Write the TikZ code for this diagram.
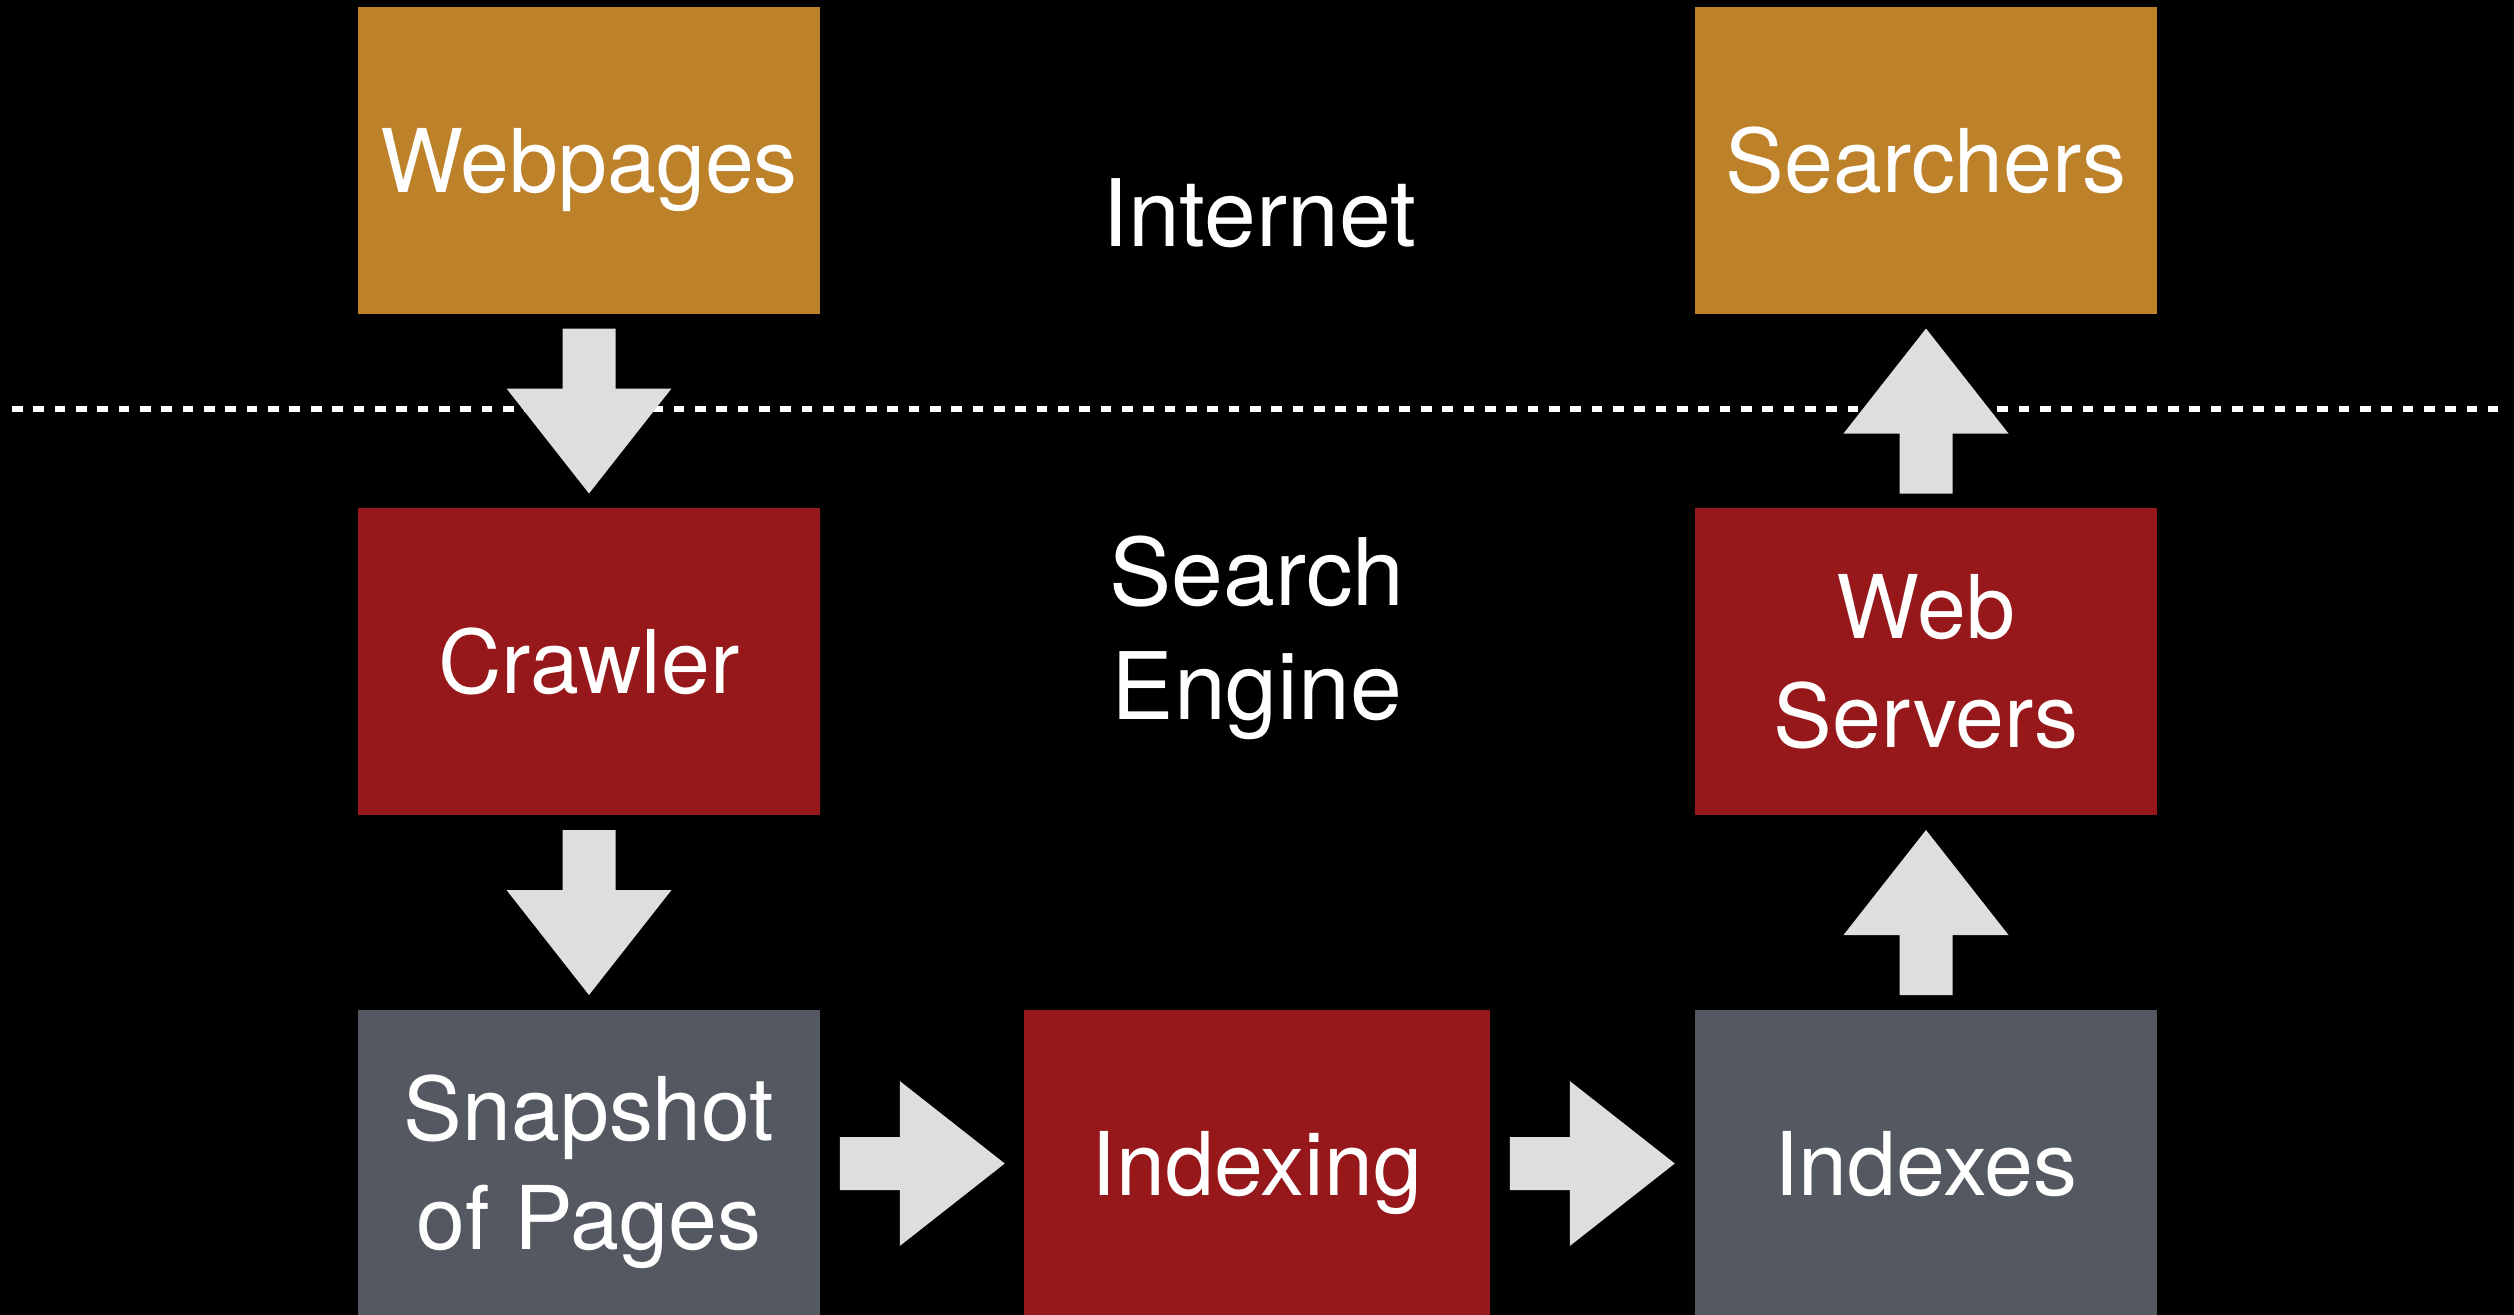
\documentclass[tikz,border=0pt]{standalone}
\usepackage{fontspec}
\setmainfont{TeX Gyre Heros}
\usetikzlibrary{calc}

\definecolor{gold}{RGB}{188,129,41}
\definecolor{crimson}{RGB}{151,24,26}
\definecolor{slate}{RGB}{84,89,97}
\definecolor{arrowgrey}{RGB}{221,222,224}

% Block arrow centred between two anchors, pointing along the given angle
\newcommand\fatarrow[3]{%
  \fill[arrowgrey, shift={($(#1)!0.5!(#2)$)}, rotate=#3]
    (-82.5,-26.5) -- (-22.5,-26.5) -- (-22.5,-82.5) -- (82.5,0)
    -- (-22.5,82.5) -- (-22.5,26.5) -- (-82.5,26.5) -- cycle;}

\begin{document}
\begin{tikzpicture}[x=0.01cm, y=-0.01cm,
  box/.style={rectangle, inner sep=0pt, outer sep=0pt, draw=none,
    minimum width=4.62cm, minimum height=3.07cm, text=white, align=center,
    font={\fontsize{25}{30.9}\selectfont}, text height=17.95pt, text depth=0pt},
  twolines/.style={text height=48.85pt},
  zone/.style={inner sep=0pt, text=white, align=center,
    font={\fontsize{26.5}{32.4}\selectfont}, text height=19.0pt, text depth=0pt},
  divider/.style={white, line width=1.56pt, dash pattern=on 3.04pt off 3.03pt}]

\useasboundingbox (0,0) rectangle (2514,1315);
\fill[black] (0,0) rectangle (2514,1315);

% Boundary between the internet and the search engine
\coordinate (divL) at (12,409);
\coordinate (divR) at (2498,409);
\draw[divider] (divL) -- (divR);

% Zone labels
\node[zone] (internet) at (1259,213) {Internet};
\node[zone, text height=51.4pt] (engine) at (1257,629.5) {Search\\Engine};

% Components
\node[box, fill=gold] (web) at (589,160.5) {Webpages};
\node[box, fill=gold] (srch) at (1926,160.5) {Searchers};
\node[box, fill=crimson] (crawl) at (589,661.5) {Crawler};
\node[box, fill=crimson, twolines] (ws) at (1926,661.5) {Web\\Servers};
\node[box, fill=slate, twolines] (snap) at (589,1163.5) {Snapshot\\of Pages};
\node[box, fill=crimson, minimum width=4.65cm] (idx) at (1257,1163.5) {Indexing};
\node[box, fill=slate] (idxs) at (1926,1163.5) {Indexes};

% Data flow
\fatarrow{web.south}{crawl.north}{-90}
\fatarrow{crawl.south}{snap.north}{-90}
\fatarrow{snap.east}{idx.west}{0}
\fatarrow{idx.east}{idxs.west}{0}
\fatarrow{idxs.north}{ws.south}{90}
\fatarrow{ws.north}{srch.south}{90}

\end{tikzpicture}
\end{document}
